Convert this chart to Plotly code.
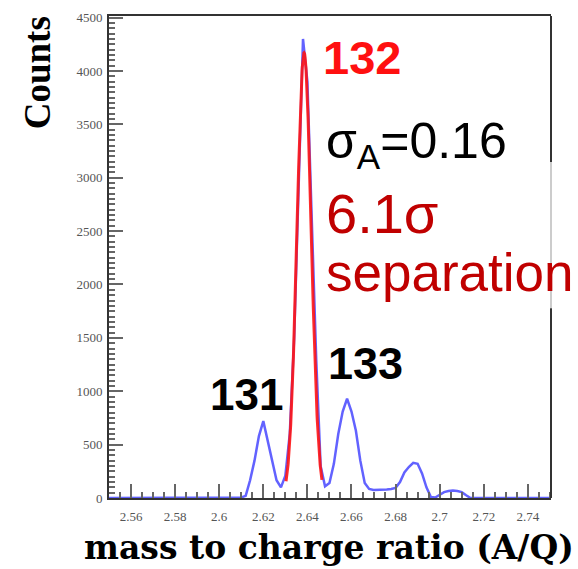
import plotly.graph_objects as go
import numpy as np

# Histogram of A/Q (bin centres and counts)
aq_bins = [2.550, 2.600, 2.602, 2.604, 2.606, 2.608, 2.610, 2.612, 2.614, 2.616, 2.618,
           2.620, 2.622, 2.624, 2.626, 2.628, 2.630, 2.632, 2.634, 2.636, 2.638,
           2.640, 2.642, 2.644, 2.646, 2.648, 2.650, 2.652, 2.654, 2.656, 2.658,
           2.660, 2.662, 2.664, 2.666, 2.668, 2.670, 2.672, 2.674, 2.676, 2.678,
           2.680, 2.682, 2.684, 2.686, 2.688, 2.690, 2.692, 2.694, 2.696, 2.698,
           2.700, 2.702, 2.704, 2.706, 2.708, 2.710, 2.712, 2.714, 2.716, 2.750]
counts = [0, 0, 0, 0, 0, 0, 5, 20, 166, 350, 580,
          720, 535, 350, 166, 100, 210, 600, 1500, 2900, 4300,
          3900, 2500, 1300, 300, 110, 140, 320, 600, 810, 930,
          810, 630, 350, 140, 85, 75, 75, 80, 80, 85,
          95, 150, 240, 290, 330, 320, 230, 100, 10, 5,
          30, 55, 65, 70, 65, 55, 25, 0, 0, 0]

# Gaussian fit of the A = 132 peak (sigma_A = 0.16 in mass units, Q = 50)
fit_amp = 4170
fit_mean = 2.6385
sigma_A = 0.16
charge_Q = 50
fit_range = [2.6303, 2.6466]

x_ticks = [2.56, 2.58, 2.60, 2.62, 2.64, 2.66, 2.68, 2.70, 2.72, 2.74]
x_ticktext = ["2.56", "2.58", "2.6", "2.62", "2.64", "2.66", "2.68", "2.7", "2.72", "2.74"]
y_ticks = [0, 500, 1000, 1500, 2000, 2500, 3000, 3500, 4000, 4500]

fit_sigma = sigma_A / charge_Q
fx = np.linspace(fit_range[0], fit_range[1], 200)
fy = fit_amp * np.exp(-0.5 * ((fx - fit_mean) / fit_sigma) ** 2)

fig = go.Figure()
fig.add_trace(go.Scatter(x=aq_bins, y=counts, mode="lines",
                         line=dict(color="rgba(70,70,255,0.85)", width=2.5),
                         cliponaxis=False, showlegend=False))
fig.add_trace(go.Scatter(x=fx, y=fy, mode="lines",
                         line=dict(color="rgba(255,20,20,0.9)", width=3),
                         showlegend=False))

W, H = 578, 569
L, R, T, B = 109, 27, 10, 71
pw, ph = W - L - R, H - T - B


def px(xp):
    return (xp - L) / pw


def py(yp):
    return (H - B - yp) / ph


axis_color = "#333333"
tick_font = dict(family="Liberation Serif, Times New Roman, serif", size=13, color="#555555")

fig.update_layout(
    width=W, height=H,
    margin=dict(l=L, r=R, t=T, b=B),
    paper_bgcolor="white", plot_bgcolor="white",
    xaxis=dict(range=[2.55, 2.7505], tickvals=x_ticks, ticktext=x_ticktext,
               ticks="inside", ticklen=14, tickwidth=1.5, tickcolor="#666666",
               minor=dict(dtick=0.005, tick0=2.55, ticks="inside", ticklen=6,
                          tickwidth=1.5, tickcolor="#666666"),
               showline=True, linecolor=axis_color, linewidth=2, mirror=True,
               showgrid=False, zeroline=False, tickfont=tick_font,
               ticklabelstandoff=5),
    yaxis=dict(range=[0, 4515], tickvals=y_ticks,
               ticks="inside", ticklen=14, tickwidth=1.5, tickcolor="#666666",
               minor=dict(dtick=50, tick0=0, ticks="inside", ticklen=6,
                          tickwidth=1.5, tickcolor="#666666"),
               showline=True, linecolor=axis_color, linewidth=2, mirror=False,
               showgrid=False, zeroline=False, tickfont=tick_font,
               ticklabelstandoff=2),
)

# right frame: dark, with a pale stretch beside the label text
for y0, y1, col in [(10, 158, axis_color), (158, 306, "#cccccc"), (306, 498, axis_color)]:
    fig.add_shape(type="line", xref="paper", yref="paper",
                  x0=1, x1=1, y0=py(y1), y1=py(y0),
                  line=dict(color=col, width=2))

sans = "Liberation Sans, Arial, Helvetica, sans-serif"
serif = "Liberation Serif, Times New Roman, serif"
wide_serif = "DejaVu Serif, serif"
annos = [
    dict(text="<b>132</b>", x=px(321), y=py(52), font=dict(family=sans, size=47, color="#ff1010")),
    dict(text="σ<sub>A</sub>=0.16", x=px(324), y=py(140), font=dict(family=sans, size=50, color="black")),
    dict(text="6.1σ", x=px(324), y=py(210), font=dict(family=sans, size=56, color="#c00000")),
    dict(text="separation", x=px(324), y=py(270), font=dict(family=sans, size=53, color="#c00000")),
    dict(text="<b>131</b>", x=px(208), y=py(393), font=dict(family=sans, size=44, color="black")),
    dict(text="<b>133</b>", x=px(326), y=py(362), font=dict(family=sans, size=45, color="black")),
]
for a in annos:
    fig.add_annotation(xref="paper", yref="paper", xanchor="left", yanchor="middle",
                       showarrow=False, **a)

fig.add_annotation(text="<b>Counts</b>", xref="paper", yref="paper",
                   x=px(37), y=py(68), xanchor="center", yanchor="middle",
                   textangle=-90, showarrow=False,
                   font=dict(family=serif, size=37, color="black"))
fig.add_annotation(text="<b>mass to charge ratio (A/Q)</b>", xref="paper", yref="paper",
                   x=px(576), y=py(548), xanchor="right", yanchor="middle",
                   showarrow=False,
                   font=dict(family=wide_serif, size=33, color="black"))

fig.write_html("out.html")
